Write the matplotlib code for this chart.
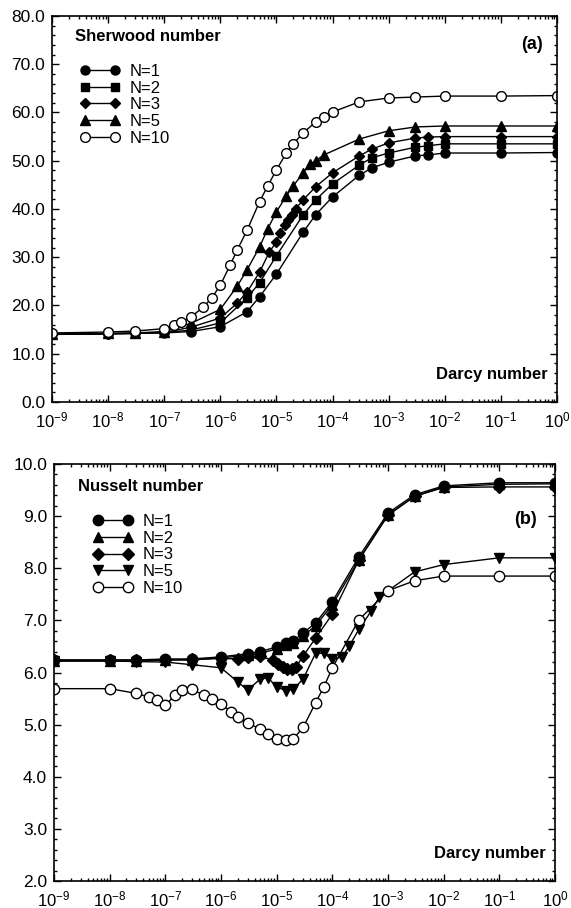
import matplotlib
matplotlib.use("Agg")
import matplotlib.pyplot as plt
import numpy as np
from matplotlib.ticker import FixedLocator, FuncFormatter, FormatStrFormatter, MultipleLocator, NullFormatter

plt.rcParams['font.family'] = ['Liberation Sans', 'DejaVu Sans']
plt.rcParams['mathtext.default'] = 'regular'

# (a) Sherwood number vs Darcy number
sh_x1 = [1e-9, 1e-8, 3e-8, 1e-7, 3e-7, 1e-6, 3e-6, 5e-6, 1e-5, 3e-5, 5e-5, 1e-4, 3e-4, 5e-4, 1e-3, 3e-3, 5e-3, 1e-2, 1e-1, 1]
sh_n1 = [14.0, 14.1, 14.2, 14.3, 14.6, 15.6, 18.7, 21.8, 26.5, 35.2, 38.8, 42.5, 47.0, 48.5, 49.7, 51.0, 51.2, 51.6, 51.6, 51.7]
sh_x2 = [1e-9, 1e-8, 3e-8, 1e-7, 3e-7, 1e-6, 3e-6, 5e-6, 1e-5, 3e-5, 5e-5, 1e-4, 3e-4, 5e-4, 1e-3, 3e-3, 5e-3, 1e-2, 1e-1, 1]
sh_n2 = [14.1, 14.2, 14.3, 14.4, 14.9, 16.4, 21.6, 24.7, 30.3, 38.8, 41.9, 45.2, 49.1, 50.6, 51.6, 52.8, 53.1, 53.5, 53.5, 53.5]
sh_x3 = [1e-9, 1e-8, 3e-8, 1e-7, 3e-7, 1e-6, 2e-6, 3e-6, 5e-6, 7.5e-6, 1e-5, 1.15e-5, 1.4e-5, 1.6e-5, 1.9e-5, 2.2e-5,
         3e-5, 5e-5, 1e-4, 3e-4, 5e-4, 1e-3, 3e-3, 5e-3, 1e-2, 1e-1, 1]
sh_n3 = [14.0, 14.1, 14.2, 14.4, 15.5, 17.4, 20.5, 22.8, 26.9, 31.1, 33.2, 35.0, 36.7, 37.7, 38.8, 40.0,
         41.9, 44.6, 47.5, 51.0, 52.4, 53.7, 54.7, 54.9, 55.0, 55.0, 55.0]
sh_x5 = [1e-9, 1e-8, 3e-8, 1e-7, 3e-7, 1e-6, 2e-6, 3e-6, 5e-6, 7e-6, 1e-5, 1.5e-5, 2e-5, 3e-5, 4e-5, 5e-5, 7e-5,
         3e-4, 1e-3, 3e-3, 1e-2, 1e-1, 1]
sh_n5 = [14.0, 14.2, 14.3, 14.6, 16.3, 19.2, 24.0, 27.4, 32.1, 35.9, 39.4, 42.7, 44.8, 47.5, 49.3, 50.0, 51.2,
         54.5, 56.2, 57.0, 57.2, 57.2, 57.2]
sh_x10 = [1e-9, 1e-8, 3e-8, 1e-7, 1.5e-7, 2e-7, 3e-7, 5e-7, 7e-7, 1e-6, 1.5e-6, 2e-6, 3e-6, 5e-6, 7e-6, 1e-5,
          1.5e-5, 2e-5, 3e-5, 5e-5, 7e-5, 1e-4, 3e-4, 1e-3, 3e-3, 1e-2, 1e-1, 1]
sh_n10 = [14.3, 14.5, 14.7, 15.2, 16.0, 16.6, 17.6, 19.7, 21.5, 24.2, 28.4, 31.5, 35.6, 41.5, 44.8, 48.1,
          51.6, 53.5, 55.8, 58.0, 59.1, 60.1, 62.2, 63.0, 63.2, 63.4, 63.4, 63.5]

# (b) Nusselt number vs Darcy number
nu_x1 = [1e-9, 1e-8, 3e-8, 1e-7, 3e-7, 1e-6, 3e-6, 5e-6, 1e-5, 1.5e-5, 2e-5, 3e-5, 5e-5, 1e-4, 3e-4, 1e-3, 3e-3, 1e-2, 1e-1, 1]
nu_n1 = [6.24, 6.24, 6.24, 6.26, 6.26, 6.30, 6.36, 6.40, 6.49, 6.57, 6.61, 6.76, 6.95, 7.36, 8.22, 9.06, 9.41, 9.58, 9.64, 9.64]
nu_x2 = [1e-9, 1e-8, 3e-8, 1e-7, 3e-7, 1e-6, 3e-6, 5e-6, 1e-5, 1.5e-5, 2e-5, 3e-5, 5e-5, 1e-4, 3e-4, 1e-3, 3e-3, 1e-2, 1e-1, 1]
nu_n2 = [6.22, 6.22, 6.22, 6.24, 6.24, 6.28, 6.33, 6.37, 6.45, 6.52, 6.56, 6.70, 6.90, 7.30, 8.16, 9.02, 9.38, 9.56, 9.61, 9.62]
nu_x3 = [1e-9, 1e-8, 3e-8, 1e-7, 3e-7, 1e-6, 2e-6, 3e-6, 5e-6, 8.5e-6, 1.05e-5, 1.3e-5, 1.55e-5, 1.9e-5, 2.25e-5,
         3e-5, 5e-5, 1e-4, 3e-4, 1e-3, 3e-3, 1e-2, 1e-1, 1]
nu_n3 = [6.24, 6.24, 6.24, 6.24, 6.25, 6.27, 6.26, 6.30, 6.31, 6.24, 6.17, 6.11, 6.06, 6.06, 6.11,
         6.32, 6.66, 7.12, 8.16, 9.02, 9.38, 9.55, 9.56, 9.56]
nu_x5 = [1e-9, 1e-8, 3e-8, 1e-7, 3e-7, 1e-6, 2e-6, 3e-6, 5e-6, 7e-6, 1e-5, 1.5e-5, 2e-5, 3e-5, 5e-5, 7e-5,
         1e-4, 1.5e-4, 2e-4, 3e-4, 5e-4, 7e-4, 3e-3, 1e-2, 1e-1, 1]
nu_n5 = [6.22, 6.22, 6.21, 6.20, 6.15, 6.09, 5.82, 5.66, 5.87, 5.90, 5.72, 5.65, 5.68, 5.88, 6.37, 6.37,
         6.25, 6.30, 6.50, 6.83, 7.18, 7.45, 7.93, 8.07, 8.20, 8.20]
nu_x10 = [1e-9, 1e-8, 3e-8, 5e-8, 7e-8, 1e-7, 1.5e-7, 2e-7, 3e-7, 5e-7, 7e-7, 1e-6, 1.5e-6, 2e-6, 3e-6, 5e-6,
          7e-6, 1e-5, 1.5e-5, 2e-5, 3e-5, 5e-5, 7e-5, 1e-4, 3e-4, 1e-3, 3e-3, 1e-2, 1e-1, 1]
nu_n10 = [5.69, 5.69, 5.60, 5.53, 5.47, 5.37, 5.57, 5.66, 5.68, 5.56, 5.50, 5.40, 5.25, 5.15, 5.03, 4.92,
          4.82, 4.73, 4.71, 4.73, 4.95, 5.42, 5.72, 6.09, 7.01, 7.57, 7.76, 7.85, 7.85, 7.85]

labels = ["N=1", "N=2", "N=3", "N=5", "N=10"]
decades = list(range(-9, 1))


def style_axis(ax, ymin, ymax, ystep, yminor):
    ax.set_xscale('log')
    ax.set_xlim(1e-9, 1)
    ax.set_ylim(ymin, ymax)
    ax.xaxis.set_major_locator(FixedLocator([10.0 ** d for d in decades]))
    ax.xaxis.set_minor_locator(FixedLocator([k * 10.0 ** d for d in decades[:-1] for k in range(2, 10)]))
    ax.xaxis.set_minor_formatter(NullFormatter())
    ax.xaxis.set_major_formatter(FuncFormatter(lambda v, p: r'$10^{%d}$' % int(round(np.log10(v)))))
    ax.yaxis.set_major_locator(MultipleLocator(ystep))
    ax.yaxis.set_minor_locator(MultipleLocator(yminor))
    ax.yaxis.set_major_formatter(FormatStrFormatter('%.1f'))
    ax.tick_params(which='both', direction='in', top=True, right=True, width=1)
    ax.tick_params(which='major', length=5)
    ax.tick_params(which='minor', length=2.5)
    ax.tick_params(axis='y', labelsize=12.5, pad=5)
    ax.tick_params(axis='x', labelsize=12, pad=6)
    for s in ax.spines.values():
        s.set_linewidth(1.2)


fig = plt.figure(figsize=(5.71, 9.08), dpi=100)

# panel (a)
ax1 = fig.add_axes([0.091, 0.5573, 0.8845, 0.4251])
ms = 6.5
ax1.plot(sh_x1, sh_n1, '-o', color='black', mfc='black', ms=ms, lw=1, label=labels[0])
ax1.plot(sh_x2, sh_n2, '-s', color='black', mfc='black', ms=ms - 0.5, lw=1, label=labels[1])
ax1.plot(sh_x3, sh_n3, '-D', color='black', mfc='black', ms=ms - 1, lw=1, label=labels[2])
ax1.plot(sh_x5, sh_n5, '-^', color='black', mfc='black', ms=ms + 0.5, lw=1, label=labels[3])
ax1.plot(sh_x10, sh_n10, '-o', color='black', mfc='white', ms=ms + 0.5, lw=1, label=labels[4])
style_axis(ax1, 0, 80, 10, 2)
ax1.legend(loc='upper left', bbox_to_anchor=(0.055, 0.876), frameon=False, numpoints=2,
           fontsize=12, handlelength=2.4, handletextpad=0.6, labelspacing=0.1,
           borderpad=0, borderaxespad=0)
ax1.text(0.046, 0.946, "Sherwood number", transform=ax1.transAxes, fontsize=12,
         fontweight='bold', ha='left', va='center')
ax1.text(0.972, 0.925, "(a)", transform=ax1.transAxes, fontsize=13,
         fontweight='bold', ha='right', va='center')
ax1.text(0.982, 0.07, "Darcy number", transform=ax1.transAxes, fontsize=12,
         fontweight='bold', ha='right', va='center')

# panel (b)
ax2 = fig.add_axes([0.0946, 0.0297, 0.8774, 0.4593])
ms = 7.5
ax2.plot(nu_x1, nu_n1, '-o', color='black', mfc='black', ms=ms, lw=1, label=labels[0])
ax2.plot(nu_x2, nu_n2, '-^', color='black', mfc='black', ms=ms, lw=1, label=labels[1])
ax2.plot(nu_x3, nu_n3, '-D', color='black', mfc='black', ms=ms - 1.5, lw=1, label=labels[2])
ax2.plot(nu_x5, nu_n5, '-v', color='black', mfc='black', ms=ms, lw=1, label=labels[3])
ax2.plot(nu_x10, nu_n10, '-o', color='black', mfc='white', ms=ms, lw=1, label=labels[4])
style_axis(ax2, 2, 10, 1, 0.2)
ax2.legend(loc='upper left', bbox_to_anchor=(0.078, 0.88), frameon=False, numpoints=2,
           fontsize=12, handlelength=2.4, handletextpad=0.6, labelspacing=0.1,
           borderpad=0, borderaxespad=0)
ax2.text(0.048, 0.945, "Nusselt number", transform=ax2.transAxes, fontsize=12,
         fontweight='bold', ha='left', va='center')
ax2.text(0.964, 0.866, "(b)", transform=ax2.transAxes, fontsize=13,
         fontweight='bold', ha='right', va='center')
ax2.text(0.982, 0.067, "Darcy number", transform=ax2.transAxes, fontsize=12,
         fontweight='bold', ha='right', va='center')

fig.savefig("out.png", dpi=100)
